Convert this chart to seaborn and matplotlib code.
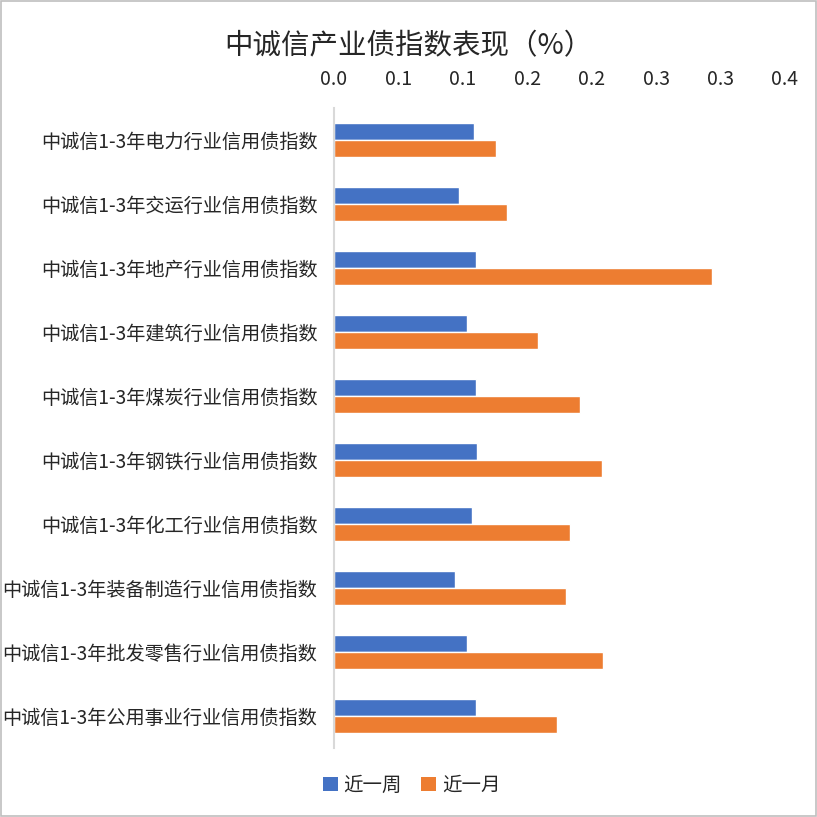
import matplotlib
matplotlib.use('Agg')
import matplotlib.pyplot as plt
from matplotlib.patches import Rectangle, Patch
import seaborn as sns
import pandas as pd

sns.set_style('white')
plt.rcParams['font.family'] = ['Noto Sans CJK SC', 'DejaVu Sans']

# data
categories = [
    '中诚信1-3年电力行业信用债指数',
    '中诚信1-3年交运行业信用债指数',
    '中诚信1-3年地产行业信用债指数',
    '中诚信1-3年建筑行业信用债指数',
    '中诚信1-3年煤炭行业信用债指数',
    '中诚信1-3年钢铁行业信用债指数',
    '中诚信1-3年化工行业信用债指数',
    '中诚信1-3年装备制造行业信用债指数',
    '中诚信1-3年批发零售行业信用债指数',
    '中诚信1-3年公用事业行业信用债指数',
]
week = [0.109, 0.097, 0.110, 0.103, 0.110, 0.111, 0.107, 0.094, 0.103, 0.110]
month = [0.126, 0.134, 0.293, 0.158, 0.191, 0.208, 0.183, 0.180, 0.209, 0.173]
series = ['近一周', '近一月']
x_ticks = [0.0, 0.05, 0.1, 0.15, 0.2, 0.25, 0.3, 0.35]
x_tick_labels = ['0.0', '0.1', '0.1', '0.2', '0.2', '0.3', '0.3', '0.4']
title = '中诚信产业债指数表现（%）'

colors = ['#4472C4', '#ED7D31']

df = pd.DataFrame({
    'cat': categories * 2,
    'val': week + month,
    'series': [series[0]] * len(week) + [series[1]] * len(month),
})

fig = plt.figure(figsize=(8.17, 8.17), dpi=100)
ax = fig.add_axes([0.4088, 0.0845, 0.552, 0.7833])

sns.barplot(data=df, x='val', y='cat', hue='series', palette=colors,
            orient='h', width=0.52, saturation=1, legend=False, ax=ax)

ax.set_xlim(0, 0.35)
ax.set_xticks(x_ticks)
ax.set_xticklabels(x_tick_labels)
ax.xaxis.tick_top()
ax.set_xlabel('')
ax.set_ylabel('')

text_col = '#262626'
ax.tick_params(axis='x', length=0, pad=13, labelsize=14, labelcolor=text_col)
ax.tick_params(axis='y', length=0, pad=12, labelsize=13.8, labelcolor=text_col)

for s in ['top', 'right', 'bottom']:
    ax.spines[s].set_visible(False)
ax.spines['left'].set_color('#D9D9D9')
ax.spines['left'].set_linewidth(1.5)

fig.text(0.5, 0.943, title, ha='center', va='center', fontsize=20.5, color=text_col)

handles = [Patch(facecolor=c, edgecolor='none') for c in colors]
fig.legend(handles, series, loc='center', bbox_to_anchor=(0.504, 0.039), ncol=2,
           frameon=False, fontsize=14, handlelength=0.75, handleheight=0.75,
           handletextpad=0.3, columnspacing=1.0, labelcolor=text_col)

# chart border
fig.patches.append(Rectangle((0.001, 0.001), 0.998, 0.998, transform=fig.transFigure,
                             fill=False, edgecolor='#BFBFBF', linewidth=1.2))

fig.savefig('out.png', dpi=100)
